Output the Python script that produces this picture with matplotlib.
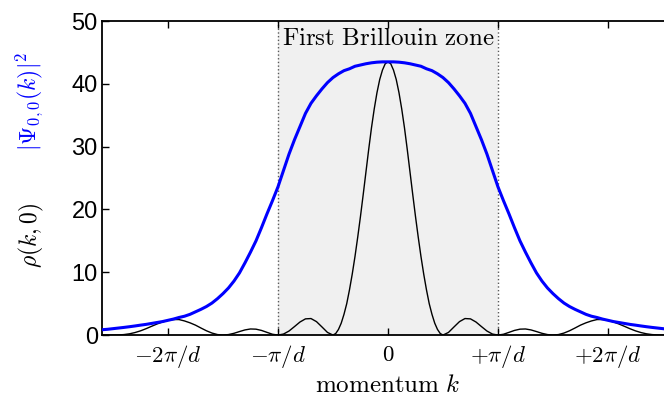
import matplotlib
matplotlib.use("Agg")
import matplotlib.pyplot as plt
import numpy as np

plt.rcParams['mathtext.fontset'] = 'cm'

# momentum in units of pi/d
k = [-2.60, -2.55, -2.50, -2.45, -2.40, -2.35, -2.30, -2.25, -2.20, -2.15,
     -2.10, -2.05, -2.00, -1.95, -1.90, -1.85, -1.80, -1.75, -1.70, -1.65,
     -1.60, -1.55, -1.50, -1.45, -1.40, -1.35, -1.30, -1.25, -1.20, -1.15,
     -1.10, -1.05, -1.00, -0.95, -0.90, -0.85, -0.80, -0.75, -0.70, -0.65,
     -0.60, -0.55, -0.50, -0.45, -0.40, -0.35, -0.30, -0.25, -0.20, -0.15,
     -0.10, -0.05, 0.00, 0.05, 0.10, 0.15, 0.20, 0.25, 0.30, 0.35,
     0.40, 0.45, 0.50, 0.55, 0.60, 0.65, 0.70, 0.75, 0.80, 0.85,
     0.90, 0.95, 1.00, 1.05, 1.10, 1.15, 1.20, 1.25, 1.30, 1.35,
     1.40, 1.45, 1.50, 1.55, 1.60, 1.65, 1.70, 1.75, 1.80, 1.85,
     1.90, 1.95, 2.00, 2.05, 2.10, 2.15, 2.20, 2.25, 2.30, 2.35,
     2.40, 2.45, 2.50, 2.55, 2.60]

# |Psi_00(k)|^2 (blue)
psi2 = [0.85, 0.92, 1.02, 1.12, 1.22, 1.33, 1.45, 1.58, 1.70, 1.85,
        2.00, 2.15, 2.35, 2.55, 2.80, 3.00, 3.30, 3.70, 4.10, 4.55,
        5.10, 5.80, 6.60, 7.50, 8.60, 9.90, 11.5, 13.2, 15.0, 17.1,
        19.3, 21.4, 23.6, 26.2, 28.8, 31.1, 33.2, 35.3, 36.9, 38.1,
        39.2, 40.2, 41.0, 41.6, 42.1, 42.4, 42.8, 43.0, 43.2, 43.35,
        43.45, 43.5, 43.5, 43.5, 43.45, 43.35, 43.2, 43.0, 42.8, 42.4,
        42.1, 41.6, 41.0, 40.2, 39.2, 38.1, 36.9, 35.3, 33.2, 31.1,
        28.8, 26.2, 23.6, 21.4, 19.3, 17.1, 15.0, 13.2, 11.5, 9.90,
        8.60, 7.50, 6.60, 5.80, 5.10, 4.55, 4.10, 3.70, 3.30, 3.00,
        2.80, 2.55, 2.35, 2.15, 2.00, 1.85, 1.70, 1.58, 1.45, 1.33,
        1.22, 1.12, 1.02, 0.92, 0.85]

# rho(k, 0) (black), sampled finer across the central peak
k_rho = [-2.60, -2.55, -2.50, -2.45, -2.40, -2.35, -2.30, -2.25, -2.20, -2.15,
         -2.10, -2.05, -2.00, -1.95, -1.90, -1.85, -1.80, -1.75, -1.70, -1.65,
         -1.60, -1.55, -1.50, -1.45, -1.40, -1.35, -1.30, -1.25, -1.20, -1.15,
         -1.10, -1.05, -1.00, -0.95, -0.90, -0.85, -0.80, -0.75, -0.70, -0.65,
         -0.60, -0.55, -0.50, -0.475, -0.45, -0.425, -0.40, -0.375, -0.35,
         -0.325, -0.30, -0.275, -0.25, -0.225, -0.20, -0.175, -0.15, -0.125,
         -0.10, -0.075, -0.05, -0.025, 0.00, 0.025, 0.05, 0.075, 0.10, 0.125,
         0.15, 0.175, 0.20, 0.225, 0.25, 0.275, 0.30, 0.325, 0.35, 0.375,
         0.40, 0.425, 0.45, 0.475, 0.50, 0.55, 0.60, 0.65, 0.70, 0.75,
         0.80, 0.85, 0.90, 0.95, 1.00, 1.05, 1.10, 1.15, 1.20, 1.25,
         1.30, 1.35, 1.40, 1.45, 1.50, 1.55, 1.60, 1.65, 1.70, 1.75,
         1.80, 1.85, 1.90, 1.95, 2.00, 2.05, 2.10, 2.15, 2.20, 2.25,
         2.30, 2.35, 2.40, 2.45, 2.50, 2.55, 2.60]

rho = [0.03, 0.01, 0.00, 0.02, 0.08, 0.20, 0.40, 0.67, 1.01, 1.39,
       1.76, 2.08, 2.35, 2.47, 2.47, 2.25, 1.95, 1.58, 1.12, 0.68,
       0.32, 0.08, 0.00, 0.08, 0.28, 0.56, 0.82, 0.97, 0.94, 0.74,
       0.43, 0.13, 0.00, 0.16, 0.64, 1.35, 2.08, 2.58, 2.63, 2.14,
       1.29, 0.42, 0.00, 0.25, 0.90, 1.90, 3.30, 5.00, 7.20,
       9.70, 12.5, 15.6, 18.9, 22.4, 26.0, 29.6, 33.0, 36.0,
       38.6, 40.7, 42.2, 43.2, 43.5, 43.2, 42.2, 40.7, 38.6, 36.0,
       33.0, 29.6, 26.0, 22.4, 18.9, 15.6, 12.5, 9.70, 7.20, 5.00,
       3.30, 1.90, 0.90, 0.25, 0.00, 0.42, 1.29, 2.14, 2.63, 2.58,
       2.08, 1.35, 0.64, 0.16, 0.00, 0.13, 0.43, 0.74, 0.94, 0.97,
       0.82, 0.56, 0.28, 0.08, 0.00, 0.08, 0.32, 0.68, 1.12, 1.58,
       1.95, 2.25, 2.47, 2.47, 2.35, 2.08, 1.76, 1.39, 1.01, 0.67,
       0.40, 0.20, 0.08, 0.02, 0.00, 0.01, 0.03]

tick_pos = [-2, -1, 0, 1, 2]
tick_labels = [r'$-2\pi/d$', r'$-\pi/d$', r'$0$', r'$+\pi/d$', r'$+2\pi/d$']

fig = plt.figure(figsize=(6.64, 3.97), dpi=100)
ax = fig.add_axes([0.1536, 0.156, 0.8614, 0.791])

ax.axvspan(-1, 1, color='#f0f0f0', zorder=0, lw=0)
for x in (-1, 1):
    ax.axvline(x, color='0.35', ls=':', lw=1.0, zorder=1)

ax.plot(k_rho, rho, color='black', lw=1.0, zorder=3)
ax.plot(k, psi2, color=(0, 0, 1), lw=2.2, zorder=4)

ax.text(0, 47.3, r'$\mathrm{First\ Brillouin\ zone}$', ha='center', va='center',
        fontsize=18, zorder=5)

ax.set_xlim(-2.6, 2.6)
ax.set_ylim(0, 50)
ax.set_xticks(tick_pos)
ax.set_xticklabels(tick_labels, fontsize=16.5)
ax.set_yticks([0, 10, 20, 30, 40, 50])
ax.set_yticklabels(['0', '10', '20', '30', '40', '50'], fontsize=17,
                   family='Liberation Sans')
ax.tick_params(direction='in', length=5, width=1.0, top=True, right=True)
ax.tick_params(axis='y', pad=3)
ax.tick_params(axis='x', pad=6)
for s in ax.spines.values():
    s.set_linewidth(1.3)

ax.set_xlabel(r'$\mathrm{momentum}\ k$', fontsize=18, labelpad=2)

fig.text(0.044, 0.745, r'$|\boldsymbol{\Psi}_{0,0}(k)|^2$', color=(0, 0, 1),
         rotation=90, ha='center', va='center', fontsize=17)
fig.text(0.047, 0.408, r'$\rho(k,0)$', color='black',
         rotation=90, ha='center', va='center', fontsize=17)

fig.savefig('out.png', dpi=100)
